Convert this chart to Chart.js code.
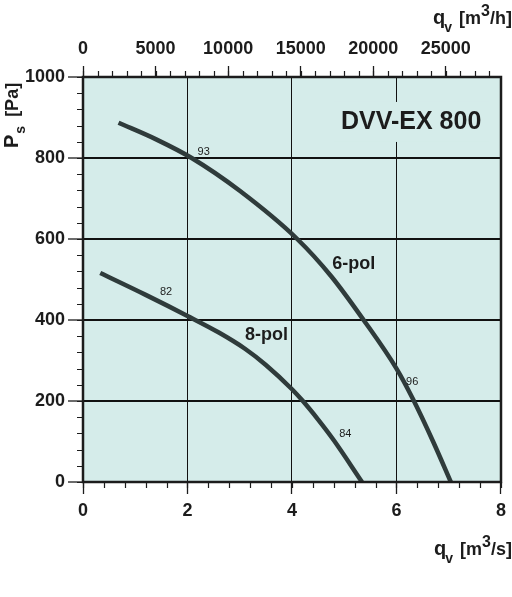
<!DOCTYPE html>
<html><head><meta charset="utf-8">
<script src="https://cdn.jsdelivr.net/npm/chart.js@4.4.0/dist/chart.umd.min.js"></script>
<style>html,body{margin:0;padding:0;background:#fff;}</style>
</head><body>
<canvas id="c" width="512" height="597" style="width:512px;height:597px;display:block"></canvas>
<script>
// ---- data ----
const flow6pol = [0.68, 1.4, 2.08, 3.0, 4.1, 4.75, 5.37, 6.0, 6.31, 6.7, 7.04];
const pres6pol = [887, 846, 800, 719, 600, 508, 400, 280, 206, 100, 0];
const flow8pol = [0.33, 1.2, 2.0, 2.6, 3.1, 3.5, 4.0, 4.2, 4.5, 4.8, 5.34];
const pres8pol = [516, 462, 410, 369, 329, 289, 229, 201, 154, 103, 0];

const xTicks = [0, 2, 4, 6, 8];            // m3/s
const yTicks = [0, 200, 400, 600, 800, 1000]; // Pa
const topTicks = [0, 5000, 10000, 15000, 20000, 25000]; // m3/h

// small efficiency labels and curve names: [text, flow, pressure]
const effLabels = [["93", 2.31, 816], ["82", 1.59, 468], ["96", 6.30, 246], ["84", 5.02, 118]];
const curveNames = [["6-pol", 5.18, 539], ["8-pol", 3.51, 362]];
const modelName = ["DVV-EX 800", 6.28, 889];

const FONT = "'Liberation Sans', Arial, Helvetica, sans-serif";
const BG = '#d5ecea';
const INK = '#1c1c1c';
const CURVE = '#2f3b3b';

const deco = {
  id: 'deco',
  beforeDraw(chart) {
    const {ctx, chartArea: a} = chart;
    ctx.save();
    ctx.fillStyle = BG;
    ctx.fillRect(a.left, a.top, a.right - a.left, a.bottom - a.top);
    ctx.restore();
  },
  beforeDatasetsDraw(chart) {
    const {ctx, scales} = chart;
    const xs = scales.x, ys = scales.y;
    const cx = xs.getPixelForValue(modelName[1]);
    const cy = ys.getPixelForValue(modelName[2]);
    ctx.save();
    ctx.fillStyle = BG;
    ctx.fillRect(cx - 78, cy - 20, 156, 40);
    ctx.restore();
  },
  afterDatasetsDraw(chart) {
    const {ctx, chartArea: a, scales} = chart;
    const xs = scales.x, ys = scales.y, xt = scales.x2;
    ctx.save();
    ctx.strokeStyle = INK;
    ctx.lineWidth = 2.5;
    ctx.strokeRect(a.left, a.top, a.right - a.left, a.bottom - a.top);
    ctx.lineWidth = 1.2;
    ctx.beginPath();
    for (let i = 0; i <= 20; i++) {
      const px = Math.round(xs.getPixelForValue(i * 0.4)) + 0.5;
      ctx.moveTo(px, a.bottom); ctx.lineTo(px, a.bottom + 6);
    }
    for (let i = 0; i <= 25; i++) {
      const py = Math.round(ys.getPixelForValue(i * 40)) + 0.5;
      ctx.moveTo(a.left, py); ctx.lineTo(a.left - 6, py);
    }
    for (let i = 0; i <= 28; i++) {
      const px = Math.round(xt.getPixelForValue(i * 1000)) + 0.5;
      ctx.moveTo(px, a.top); ctx.lineTo(px, a.top - 6);
    }
    ctx.stroke();

    ctx.fillStyle = INK;
    ctx.textAlign = 'center';
    ctx.textBaseline = 'middle';
    ctx.font = `11px ${FONT}`;
    effLabels.forEach(([t, x, y]) => ctx.fillText(t, xs.getPixelForValue(x), ys.getPixelForValue(y)));
    ctx.font = `bold 18px ${FONT}`;
    curveNames.forEach(([t, x, y]) => ctx.fillText(t, xs.getPixelForValue(x), ys.getPixelForValue(y)));
    ctx.font = `bold 25px ${FONT}`;
    ctx.fillText(modelName[0], xs.getPixelForValue(modelName[1]), ys.getPixelForValue(modelName[2]));
    ctx.restore();
  },
  afterDraw(chart) {
    const {ctx} = chart;
    ctx.save();
    ctx.fillStyle = INK;
    ctx.textBaseline = 'alphabetic';
    ctx.textAlign = 'left';
    function drawSeq(segs, xRight, baseY) {
      let w = 0;
      segs.forEach(s => { ctx.font = `bold ${s[1]}px ${FONT}`; w += ctx.measureText(s[0]).width + (s[3] || 0); });
      let x = xRight - w;
      segs.forEach(s => {
        ctx.font = `bold ${s[1]}px ${FONT}`;
        ctx.fillText(s[0], x, baseY + s[2]);
        x += ctx.measureText(s[0]).width + (s[3] || 0);
      });
    }
    drawSeq([["q", 20, 0, -1], ["v", 14, 8, 7], ["[m", 18, 0], ["3", 16, -8], ["/h]", 18, 0]], 512, 24);
    drawSeq([["q", 20, 0, -1], ["v", 14, 8, 7], ["[m", 18, 0], ["3", 16, -8], ["/s]", 18, 0]], 512, 555);
    ctx.translate(17.5, 148);
    ctx.rotate(-Math.PI / 2);
    let x = 0;
    ctx.font = `bold 20px ${FONT}`; ctx.fillText("P", x, 0); x += ctx.measureText("P").width + 1;
    ctx.font = `bold 14px ${FONT}`; ctx.fillText("s", x, 7); x += ctx.measureText("s").width + 9;
    ctx.font = `bold 18px ${FONT}`; ctx.fillText("[Pa]", x, 0);
    ctx.restore();
  }
};

const tickFont = {family: FONT, size: 18, weight: 'bold'};

new Chart(document.getElementById('c'), {
  type: 'scatter',
  data: {
    datasets: [
      {label: '6-pol', data: flow6pol.map((q, i) => ({x: q, y: pres6pol[i]})), showLine: true,
       borderColor: CURVE, borderWidth: 4.5, pointRadius: 0, cubicInterpolationMode: 'monotone'},
      {label: '8-pol', data: flow8pol.map((q, i) => ({x: q, y: pres8pol[i]})), showLine: true,
       borderColor: CURVE, borderWidth: 4.5, pointRadius: 0, cubicInterpolationMode: 'monotone'}
    ]
  },
  options: {
    responsive: false,
    animation: false,
    devicePixelRatio: 1,
    layout: {padding: {left: 0, right: 10, top: 0, bottom: 0}},
    plugins: {legend: {display: false}, tooltip: {enabled: false}},
    scales: {
      x: {
        type: 'linear', position: 'bottom', min: 0, max: 8,
        afterBuildTicks: s => { s.ticks = xTicks.map(v => ({value: v})); },
        afterFit: s => { s.height = 115; },
        ticks: {font: tickFont, color: INK, padding: 6, maxRotation: 0, callback: v => String(v)},
        grid: {color: '#111', lineWidth: 1, tickLength: 12, tickColor: INK, tickWidth: 1.3},
        border: {display: false}
      },
      x2: {
        type: 'linear', position: 'top', min: 0, max: 28800,
        afterBuildTicks: s => { s.ticks = topTicks.map(v => ({value: v})); },
        afterFit: s => { s.height = 77; },
        ticks: {font: tickFont, color: INK, padding: 6, maxRotation: 0, callback: v => String(v)},
        grid: {drawOnChartArea: false, tickLength: 11, tickColor: INK, tickWidth: 1.3},
        border: {display: false}
      },
      y: {
        type: 'linear', position: 'left', min: 0, max: 1000,
        afterBuildTicks: s => { s.ticks = yTicks.map(v => ({value: v})); },
        afterFit: s => { s.width = 83; },
        ticks: {font: tickFont, color: INK, padding: 3, callback: v => String(v)},
        grid: {color: '#111', lineWidth: 2, tickLength: 15, tickColor: INK, tickWidth: 1.3},
        border: {display: false}
      }
    }
  },
  plugins: [deco]
});
</script>
</body></html>
